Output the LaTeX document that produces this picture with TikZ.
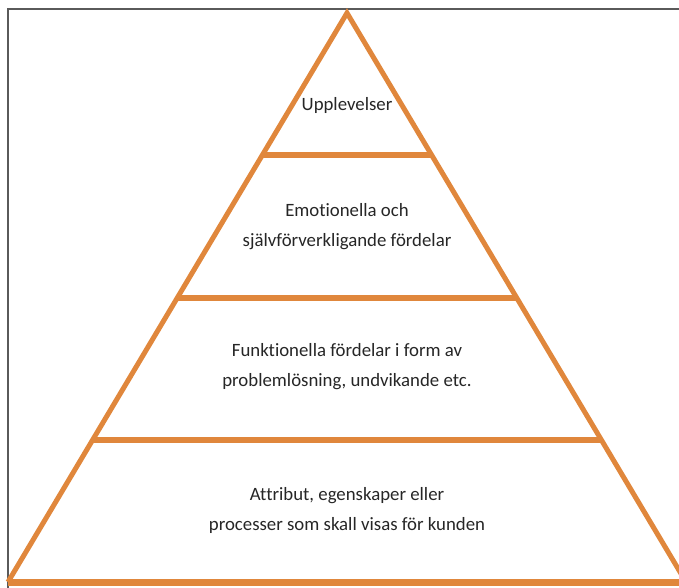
\documentclass[tikz,border=0pt]{standalone}
\usepackage{fontspec}
\setmainfont[Ligatures=NoCommon]{Carlito}
\usetikzlibrary{calc}
\definecolor{pyr}{HTML}{E0873C}
\definecolor{frame}{HTML}{5A5A5A}
\tikzset{
  side/.style={draw=pyr, line width=5pt, line join=miter},
  level/.style={draw=pyr, line width=6pt},
  label/.style={align=center, font=\fontsize{18.8}{30}\selectfont, text=black!85},
}
\begin{document}
\begin{tikzpicture}[x=1pt, y=-1pt]
\useasboundingbox (0,0) rectangle (679,588);
\clip (0,0) rectangle (679,588);
% frame lines
\draw[frame, line width=2pt] (8,588) -- (8,9) -- (679,9);
% pyramid corners
\coordinate (apex) at (347,13);
\coordinate (bl) at (8,582);
\coordinate (br) at (686,582);
% sides
\draw[side] (bl) -- (apex) -- (br);
\draw[pyr, line width=7pt] (bl) -- (br);
% level dividers
\coordinate (l1) at ($(apex)!0.25!(bl)$);
\coordinate (r1) at ($(apex)!0.25!(br)$);
\coordinate (l2) at ($(apex)!0.5!(bl)$);
\coordinate (r2) at ($(apex)!0.5!(br)$);
\coordinate (l3) at ($(apex)!0.75!(bl)$);
\coordinate (r3) at ($(apex)!0.75!(br)$);
\draw[level] (l1) -- (r1);
\draw[level] (l2) -- (r2);
\draw[level] (l3) -- (r3);
% labels
\node[label] (t1) at (347,105) {Upplevelser};
\node[label] (t2) at (347,227) {Emotionella och\\självförverkligande fördelar};
\node[label] (t3) at (347,367) {Funktionella fördelar i form av\\problemlösning, undvikande etc.};
\node[label] (t4) at (347,510) {Attribut, egenskaper eller\\processer som skall visas för kunden};
\end{tikzpicture}
\end{document}
